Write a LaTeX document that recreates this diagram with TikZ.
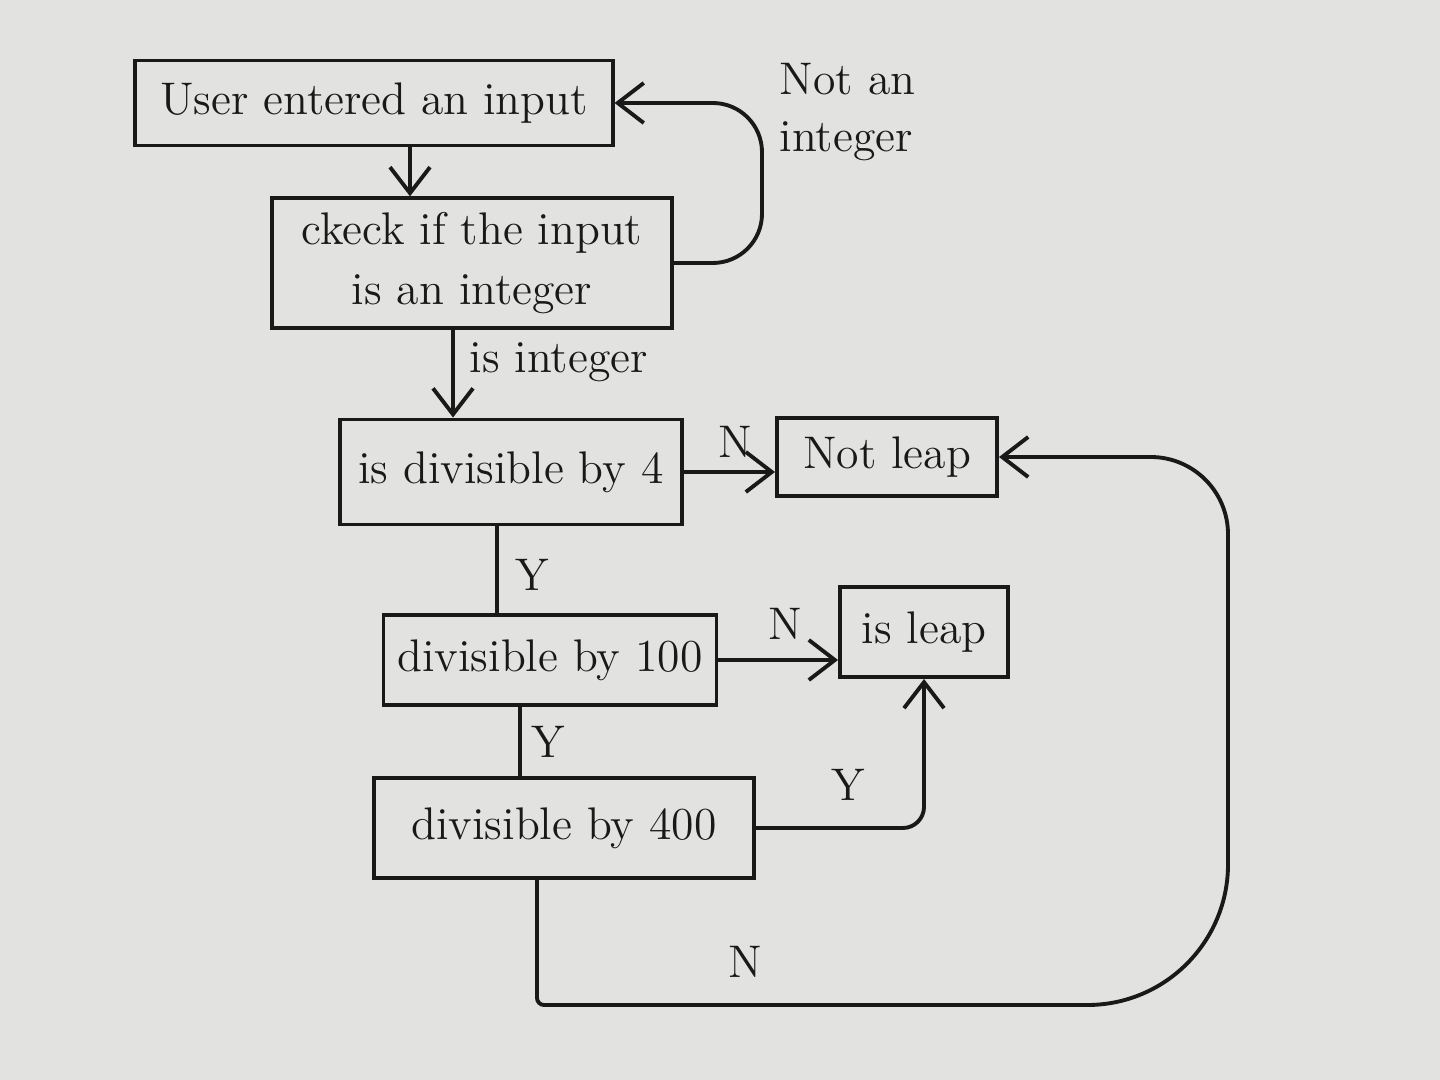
\documentclass[tikz,border=0pt]{standalone}
\usetikzlibrary{arrows.meta,calc}
\definecolor{paper}{RGB}{226,226,224}
\definecolor{ink}{RGB}{25,25,25}
\tikzset{
  x=0.01cm, y=-0.01cm,
  box/.style={draw=ink, line width=1.1pt, align=center, inner sep=4pt,
    font=\fontsize{13}{17}\selectfont, text=ink},
  lbl/.style={font=\fontsize{13}{16}\selectfont, text=ink, inner sep=2pt},
  conn/.style={draw=ink, line width=1.1pt},
  arr/.style={conn, -{Straight Barb[length=2.6mm,width=4mm,line width=1.1pt]}},
}
\begin{document}
\begin{tikzpicture}
\fill[paper] (0,0) rectangle (1440,1080);
\useasboundingbox (0,0) rectangle (1440,1080);

% nodes
\node[box, minimum width=4.77cm, minimum height=0.85cm] (in) at (374,103) {User entered an input};
\node[box, minimum width=3.99cm, minimum height=1.20cm] (chk) at (472,263) {ckeck if the input\\ is an integer};
\node[box, minimum width=3.42cm, minimum height=1.05cm] (d4) at (511,472) {is divisible by 4};
\node[box, minimum width=2.20cm, minimum height=0.78cm] (nl) at (887,457) {Not leap};
\node[box, minimum width=3.20cm, minimum height=0.90cm] (d100) at (550,660) {divisible by 100};
\node[box, minimum width=1.68cm, minimum height=0.90cm] (il) at (924,632) {is leap};
\node[box, minimum width=3.80cm, minimum height=1.00cm] (d400) at (564,828) {divisible by 400};

% helper coordinates
\coordinate (xa) at (410,0);
\coordinate (xb) at (762,103);
\coordinate (xc) at (453,0);
\coordinate (xd) at (497,0);
\coordinate (xe) at (520,0);
\coordinate (xf) at (537,0);
\coordinate (nb) at (537,1005);
\coordinate (nc) at (1228,1005);
\coordinate (nd) at (1228,457);

% connectors
\draw[arr] (in.south -| xa) -- (chk.north -| xa);
\draw[arr, rounded corners=14pt] (chk.east) -| (xb) -- (in.east);
\node[lbl, anchor=west, align=left] (lna) at (772,112) {Not an\\integer};

\draw[arr] (chk.south -| xc) -- (d4.north -| xc);
\node[lbl, anchor=west] (lint) at (462,362) {is integer};

\draw[arr] (d4.east) -- (d4.east -| nl.west);
\node[lbl] (ln1) at (735,442) {N};

\draw[conn] (d4.south -| xd) -- (d100.north -| xd);
\node[lbl] (ly1) at (532,575) {Y};

\draw[arr] (d100.east) -- (d100.east -| il.west);
\node[lbl] (ln2) at (785,624) {N};

\draw[conn] (d100.south -| xe) -- (d400.north -| xe);
\node[lbl] (ly2) at (548,742) {Y};

\draw[arr, rounded corners=6pt] (d400.east) -| (il.south);
\node[lbl] (ly3) at (848,785) {Y};

\draw[arr] (d400.south -| xf) [rounded corners=2pt] -- (nb) [rounded corners=40pt] -- (nc) [rounded corners=22pt] -- (nd) -- (nl.east);
\node[lbl] (ln3) at (745,962) {N};
\end{tikzpicture}
\end{document}
